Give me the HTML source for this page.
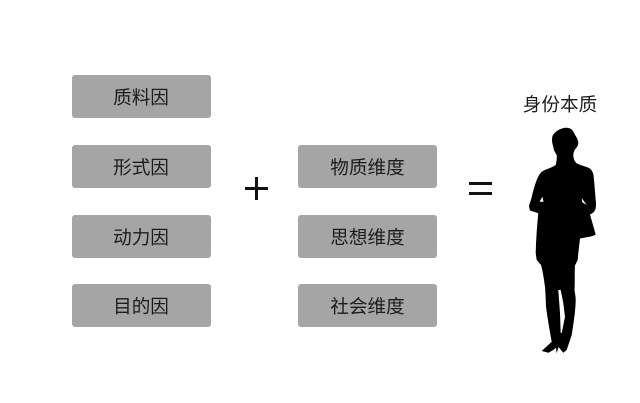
<!DOCTYPE html>
<html lang="zh">
<head>
<meta charset="utf-8">
<style>
html,body{margin:0;padding:0;background:#fff}
#c{position:relative;width:640px;height:403px;overflow:hidden;background:#fff;font-family:"Liberation Sans","Noto Sans CJK SC",sans-serif;color:#1c1c1c}
.b{position:absolute;width:139px;height:43px;line-height:45px;background:#a5a5a5;border-radius:3px;text-align:center;font-size:18.6px}
.l{left:71.5px}
.m{left:298px}
.t{position:absolute;left:510px;width:100px;top:93px;line-height:24px;text-align:center;font-size:18.6px;white-space:nowrap}
svg{position:absolute;left:0;top:0}
</style>
</head>
<body>
<div id="c">
<div class="b l" style="top:75px">质料因</div>
<div class="b l" style="top:145px">形式因</div>
<div class="b l" style="top:215px">动力因</div>
<div class="b l" style="top:284px">目的因</div>
<div class="b m" style="top:145px">物质维度</div>
<div class="b m" style="top:215px">思想维度</div>
<div class="b m" style="top:284px">社会维度</div>
<div class="t">身份本质</div>
<svg width="640" height="403" viewBox="0 0 640 403">
<path d="M245 188.500H268M256.500 177V200" stroke="#111" stroke-width="3" fill="none"/>
<path d="M469 183.500H492M469 193.500H492" stroke="#111" stroke-width="3" fill="none"/>
<path fill="#000" d="M566.500 127.700C570 127.700 572.500 129.500 573.500 132C575.500 136 578.500 139.500 578.300 143C578 147 575.500 148 574.500 150.500C573.500 153 573 154.500 573.500 157C574 160 575 162 577 163.500C581 165.500 586 166.500 590 168.500C592 170.500 593 172.500 593.500 175C594.500 184 595 192 595.700 200C596.200 203 596 206 595.700 208C595 211 593.500 213 590 214.500L595.700 234.500C593 236 591 236.500 588 237C585 237.500 582.500 238 580 238.500L578.300 253L577.700 260L575 265.500C574.500 272 575 282 574.500 290C575 294 575.800 297 575.700 300C575.500 310 574 320 572.700 328.500L571.700 335L566.700 350L563.300 352.700L558.500 347L556.700 353.300L556 347.700L553.300 350L548.300 352.700L541.700 351L551.700 341.700C549.500 330 547.500 318 546 306.700C545.800 300 545.500 293 545 286.700C544 280 543 272 541 265L536.700 260L535.700 253C536 240 537 226 538.300 213.300L530 210.500L529 206.700C529 204.500 530 202.500 531 200C532.500 193 534.500 186 536.700 180C538 176.500 539.500 174 541.700 171.700C546 169 551.500 168 555.700 165C556.500 162 557 158 556.700 155C555 152 553.500 150 553.300 146.700C552 143 551.800 140 552.300 136.700C553.500 132.500 560 127.700 566.500 127.700Z"/>
<path fill="#fff" d="M542.500 196.700L539.500 201.800L543.500 201.800ZM581.700 198L586.700 205L582.300 202.300ZM558.300 290L560.700 290L563.300 303L565 316.700L561.700 333L560.700 333L560 313Z"/>
</svg>
</div>
</body>
</html>
